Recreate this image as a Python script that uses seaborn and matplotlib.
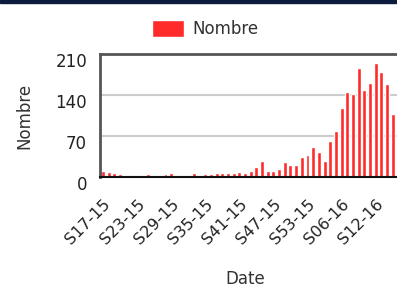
import numpy as np
import pandas as pd
import seaborn as sns
import matplotlib.pyplot as plt
from matplotlib.patches import Rectangle
from matplotlib.transforms import ScaledTranslation


# weekly counts, S17-15 .. S15-16
weeks = ["S%02d-15" % w for w in range(17, 54)] + ["S%02d-16" % w for w in range(1, 16)]
counts = [11, 9, 7, 5, 3, 2, 0, 4, 5, 3, 4, 5, 6, 3, 2, 4, 7, 4, 5, 5,
          6, 6, 7, 7, 9,
          6, 10, 17, 28, 10, 11, 14, 25, 21, 21, 35, 37, 52, 42, 28,
          62, 79, 118, 145, 141, 186, 149, 160, 194, 180, 159, 108]
yticks = [0, 70, 140, 210]
tick_every = 6

data = pd.DataFrame({"Date": weeks, "Nombre": counts})

sns.set_theme(style="white")
plt.rcParams["font.family"] = ["DejaVu Sans"]

fig = plt.figure(figsize=(3.97, 2.87), dpi=100)
ax = fig.add_axes([99.5 / 397, 1 - 177 / 287, 297.5 / 397, 123 / 287])

bar_color = "#ff2b2b"
sns.barplot(data=data, x="Date", y="Nombre", color=bar_color, saturation=1,
            width=0.7, ax=ax, label="Nombre")
if ax.get_legend() is not None:
    ax.get_legend().remove()

ax.set_xlim(-0.62, 51.76)
ax.set_ylim(0, 210)
ax.set_yticks(yticks)
ax.set_yticklabels([str(v) for v in yticks], fontsize=12, color="#222222")
pos = list(range(0, len(weeks), tick_every))
ax.set_xticks(pos)
ax.set_xticklabels([weeks[i] for i in pos], rotation=45, ha="right",
                   rotation_mode="anchor", fontsize=11.5, color="#222222")

ax.tick_params(axis="y", length=0, pad=9)
ax.tick_params(axis="x", direction="inout", length=8, width=1.2, color="#111111", pad=10)

# y labels sit a bit below their gridlines in the original
off = ScaledTranslation(0, -0.06, fig.dpi_scale_trans)
for lbl in ax.get_yticklabels():
    lbl.set_transform(lbl.get_transform() + off)

ax.yaxis.grid(True, color="#cccccc", linewidth=1.5)
ax.set_axisbelow(True)

for side in ["top", "left"]:
    ax.spines[side].set_color("#555555")
    ax.spines[side].set_linewidth(2)
ax.spines["bottom"].set_color("#111111")
ax.spines["bottom"].set_linewidth(1.5)
ax.spines["right"].set_visible(False)

ax.set_ylabel("Nombre", fontsize=12, color="#333333")
ax.yaxis.set_label_coords(-0.222, 0.5)
ax.set_xlabel("Date", fontsize=12, color="#333333", va="top")
ax.xaxis.set_label_coords(0.489, -0.76)

leg = fig.legend(loc="center left", bbox_to_anchor=(152 / 397, 1 - 29 / 287),
                 frameon=False, fontsize=12, borderpad=0, borderaxespad=0,
                 handlelength=1.92, handleheight=1.2, handletextpad=0.5)
for t in leg.get_texts():
    t.set_color("#333333")

# dark band along the top edge
fig.add_artist(Rectangle((0, 1 - 3 / 287), 1, 3 / 287, transform=fig.transFigure,
                         color="#0d1b3e", zorder=5))

fig.savefig("out.png", dpi=100)
